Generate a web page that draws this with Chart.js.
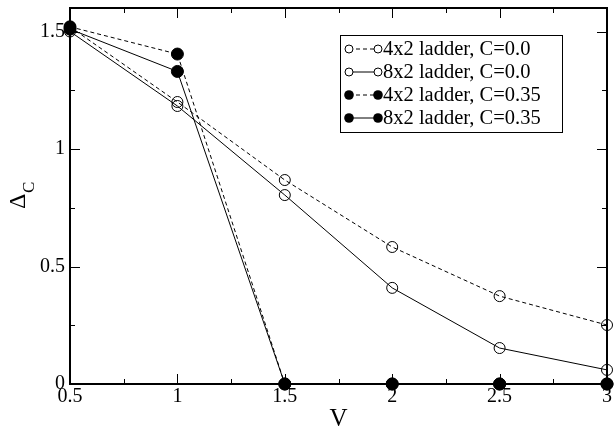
<!DOCTYPE html>
<html><head><meta charset="utf-8">
<script src="https://cdn.jsdelivr.net/npm/chart.js@4/dist/chart.umd.min.js"></script>
<style>html,body{margin:0;padding:0;background:#fff}#wrap{width:614px;height:430px}</style>
</head><body><div id="wrap"><canvas id="c" width="614" height="430"></canvas></div>
<script>
const vValues = [0.5, 1, 1.5, 2, 2.5, 3];
const s4x2C0 = [1.52, 1.20, 0.868, 0.583, 0.374, 0.251];
const s8x2C0 = [1.50, 1.183, 0.804, 0.409, 0.153, 0.06];
const s4x2C035 = [1.52, 1.404, 0, 0, 0, 0];
const s8x2C035 = [1.51, 1.33, 0, 0, 0, 0];
const seriesLabels = ['4x2 ladder, C=0.0', '8x2 ladder, C=0.0', '4x2 ladder, C=0.35', '8x2 ladder, C=0.35'];
const xTicks = [0.5, 1, 1.5, 2, 2.5, 3];
const yTicks = [0, 0.5, 1, 1.5];

const FONT = '"Liberation Serif", "DejaVu Serif", serif';
function pts(ys){ return vValues.map((x,i)=>({x:x,y:ys[i]})); }
function ds(label, ys, filled, dashed){
  return {label:label, data:pts(ys), borderColor:'#000', borderWidth:1,
    borderDash: dashed?[4,3]:[], backgroundColor: filled?'#000':'rgba(0,0,0,0)',
    pointBackgroundColor: filled?'#000':'rgba(0,0,0,0)', pointBorderColor:'#000',
    pointBorderWidth:1, pointRadius: filled?6:5.5, pointHoverRadius: filled?6:5.5,
    clip:false, tension:0, _filled:filled, _dashed:dashed};
}

const framePlugin = {
  id:'frame',
  afterDraw(chart){
    const ctx = chart.ctx, a = chart.chartArea;
    const xs = chart.scales.x, ys = chart.scales.y;
    ctx.save();
    ctx.strokeStyle='#000'; ctx.lineWidth=2; ctx.setLineDash([]);
    ctx.strokeRect(a.left, a.top, a.right-a.left, a.bottom-a.top);
    ctx.lineWidth=1;
    ctx.beginPath();
    for(let v=0.5; v<=3.0001; v+=0.25){
      const px = Math.round(xs.getPixelForValue(v))+0.5;
      const major = Math.abs(v*2-Math.round(v*2))<1e-6;
      const L = major?10:5;
      ctx.moveTo(px,a.bottom); ctx.lineTo(px,a.bottom-L);
      ctx.moveTo(px,a.top); ctx.lineTo(px,a.top+L);
    }
    for(let v=0; v<=1.6; v+=0.25){
      const py = Math.round(ys.getPixelForValue(v))+0.5;
      const major = Math.abs(v*2-Math.round(v*2))<1e-6;
      const L = major?10:5;
      ctx.moveTo(a.left,py); ctx.lineTo(a.left+L,py);
      ctx.moveTo(a.right,py); ctx.lineTo(a.right-L,py);
    }
    ctx.stroke();
    // y axis title Δ_C
    ctx.fillStyle='#000';
    ctx.translate(25, 209);
    ctx.rotate(-Math.PI/2);
    ctx.textBaseline='alphabetic';
    ctx.textAlign='left';
    ctx.font = '24px '+FONT;
    const w = ctx.measureText('Δ').width;
    ctx.fillText('Δ', 0, 0);
    ctx.font = '17px '+FONT;
    ctx.fillText('C', w+0.5, 9);
    ctx.restore();

    // legend
    ctx.save();
    const lx=340, ly=35, lw=222, lh=97;
    ctx.fillStyle='#fff'; ctx.fillRect(lx,ly,lw,lh);
    ctx.strokeStyle='#000'; ctx.lineWidth=1; ctx.strokeRect(lx+0.5,ly+0.5,lw,lh);
    const rows=[49,72,95,118];
    chart.data.datasets.forEach((d,i)=>{
      const y=rows[i];
      ctx.strokeStyle='#000'; ctx.lineWidth=1;
      ctx.setLineDash(d._dashed?[4,3]:[]);
      ctx.beginPath(); ctx.moveTo(349,y); ctx.lineTo(378,y); ctx.stroke();
      ctx.setLineDash([]);
      [349,378].forEach(cx=>{
        ctx.beginPath(); ctx.arc(cx,y,d._filled?4.8:4,0,Math.PI*2);
        if(d._filled){ctx.fillStyle='#000';ctx.fill();}
        else {ctx.fillStyle='#fff';ctx.fill();ctx.stroke();}
      });
      ctx.fillStyle='#000'; ctx.font='20.5px '+FONT; ctx.textAlign='left'; ctx.textBaseline='middle';
      ctx.fillText(d.label, 383, y+1);
    });
    ctx.restore();
  }
};

new Chart(document.getElementById('c'), {
  type:'line',
  data:{datasets:[
    ds(seriesLabels[0], s4x2C0, false, true),
    ds(seriesLabels[1], s8x2C0, false, false),
    ds(seriesLabels[2], s4x2C035, true, true),
    ds(seriesLabels[3], s8x2C035, true, false)
  ]},
  options:{
    responsive:false, animation:false, devicePixelRatio:1,
    layout:{padding:{top:8, right:6, left:0, bottom:0}},
    plugins:{legend:{display:false}, tooltip:{enabled:false}},
    scales:{
      x:{type:'linear', min:0.5, max:3,
        afterBuildTicks(s){ s.ticks = xTicks.map(v=>({value:v})); },
        afterFit(s){ s.height = 46; s.paddingLeft = 0; s.paddingRight = 0; },
        grid:{display:false, drawTicks:false}, border:{display:false},
        ticks:{color:'#000', font:{family:FONT, size:20}, padding:1, maxRotation:0,
          callback:(v)=>String(v)},
        title:{display:true, text:'V', color:'#000', font:{family:FONT, size:25}, padding:{top:0,bottom:-4}}
      },
      y:{type:'linear', min:0, max:1.6,
        afterBuildTicks(s){ s.ticks = yTicks.map(v=>({value:v})); },
        afterFit(s){ s.width = 70; s.paddingTop = 0; s.paddingBottom = 0; },
        grid:{display:false, drawTicks:false}, border:{display:false},
        ticks:{color:'#000', font:{family:FONT, size:20}, padding:5, callback:(v)=>String(v)}
      }
    }
  },
  plugins:[framePlugin]
});
</script></body></html>
